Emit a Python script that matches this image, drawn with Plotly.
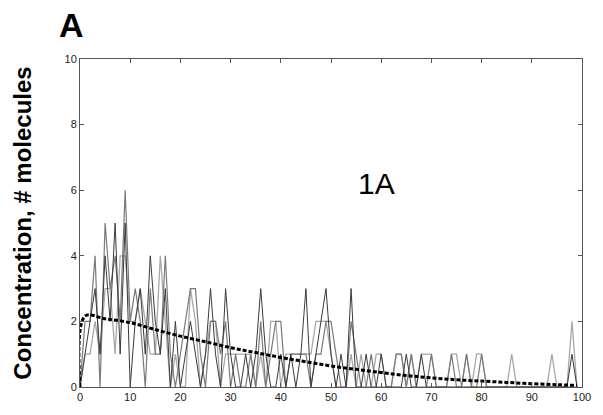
import plotly.graph_objects as go

# time points
t = list(range(100))

# three stochastic trajectories (integer molecule counts)
traj_dark = [0,1,2,3,1,4,2,5,1,5,0,2,3,1,4,2,1,3,0,2,
             0,1,2,1,0,1,3,1,0,3,1,0,0,1,0,1,3,1,0,0,
             1,0,1,0,1,3,0,1,2,3,1,0,1,0,3,0,0,1,0,0,
             1,0,0,0,0,1,0,0,1,0,0,0,0,0,0,0,0,0,0,0,
             0,0,0,0,0,0,0,0,0,0,0,0,0,0,0,0,0,0,1,0]
traj_mid = [0,2,2,4,0,5,3,4,2,6,2,3,2,0,3,1,1,4,1,0,
            1,2,3,3,1,0,2,2,1,2,0,1,0,0,1,0,2,0,1,2,
            2,0,1,1,1,1,0,1,1,2,2,1,0,0,2,1,0,0,1,0,
            0,0,0,1,1,0,1,0,0,0,1,0,0,0,1,0,0,1,0,0,
            1,0,0,0,0,0,0,0,0,0,0,0,0,0,0,0,0,0,0,0]
traj_light = [0,1,1,2,1,3,3,1,4,4,2,2,3,2,1,1,4,2,0,1,
              0,0,3,2,0,1,2,2,0,1,1,1,1,1,1,0,1,0,2,2,
              0,1,1,1,1,1,1,2,2,2,1,0,0,0,1,0,1,0,0,1,
              1,0,0,1,1,0,1,0,1,1,1,0,0,0,1,1,0,1,0,1,
              1,0,0,0,0,0,1,0,0,0,0,0,0,0,1,0,0,0,2,0]

# mean concentration (deterministic curve)
mean_t = [0, 1, 5, 10, 15, 20, 25, 30, 35, 40, 45, 50, 55, 60, 65, 70, 75, 80, 85, 90, 95, 99]
mean_v = [0, 2.16, 2.08, 1.96, 1.75, 1.55, 1.38, 1.2, 1.05, 0.9, 0.77, 0.64, 0.54, 0.44, 0.35, 0.28, 0.22, 0.18, 0.14, 0.1, 0.07, 0.05]

x_ticks = list(range(0, 101, 10))
y_ticks = list(range(0, 11, 2))

fig = go.Figure()
for ys, col, w in [(traj_light, "#a8a8a8", 1.3), (traj_mid, "#7a7a7a", 1.2), (traj_dark, "#3a3a3a", 1.0)]:
    fig.add_trace(go.Scatter(x=t, y=ys, mode="lines", line=dict(color=col, width=w), showlegend=False))
fig.add_trace(go.Scatter(x=mean_t, y=mean_v, mode="lines", line=dict(color="black", width=3, dash="4px,2px", shape="spline"), showlegend=False))

axis_common = dict(showline=True, linecolor="#555", linewidth=1, mirror="ticks", ticks="inside",
                   ticklen=4, tickcolor="#555", showgrid=False, zeroline=False,
                   tickfont=dict(family="Liberation Sans, Arial", size=11, color="#222"))
fig.update_xaxes(range=[0, 100], tickvals=x_ticks, **axis_common)
fig.update_yaxes(range=[0, 10], tickvals=y_ticks,
                 title=dict(text="<b>Concentration, # molecules</b>", standoff=26,
                            font=dict(family="Liberation Sans, Arial", size=24, color="black")),
                 **axis_common)

fig.add_annotation(x=59, y=6.2, text="1A", showarrow=False,
                   font=dict(family="Liberation Sans, Arial", size=30, color="black"))
fig.add_annotation(xref="paper", yref="paper", x=-0.016, y=1.105, xanchor="center", yanchor="middle",
                   text="<b>A</b>", showarrow=False,
                   font=dict(family="Liberation Sans, Arial", size=34, color="black"))

fig.update_layout(width=603, height=415, margin=dict(l=80, r=13, t=59, b=22),
                  plot_bgcolor="white", paper_bgcolor="white")
fig.write_html("out.html")
